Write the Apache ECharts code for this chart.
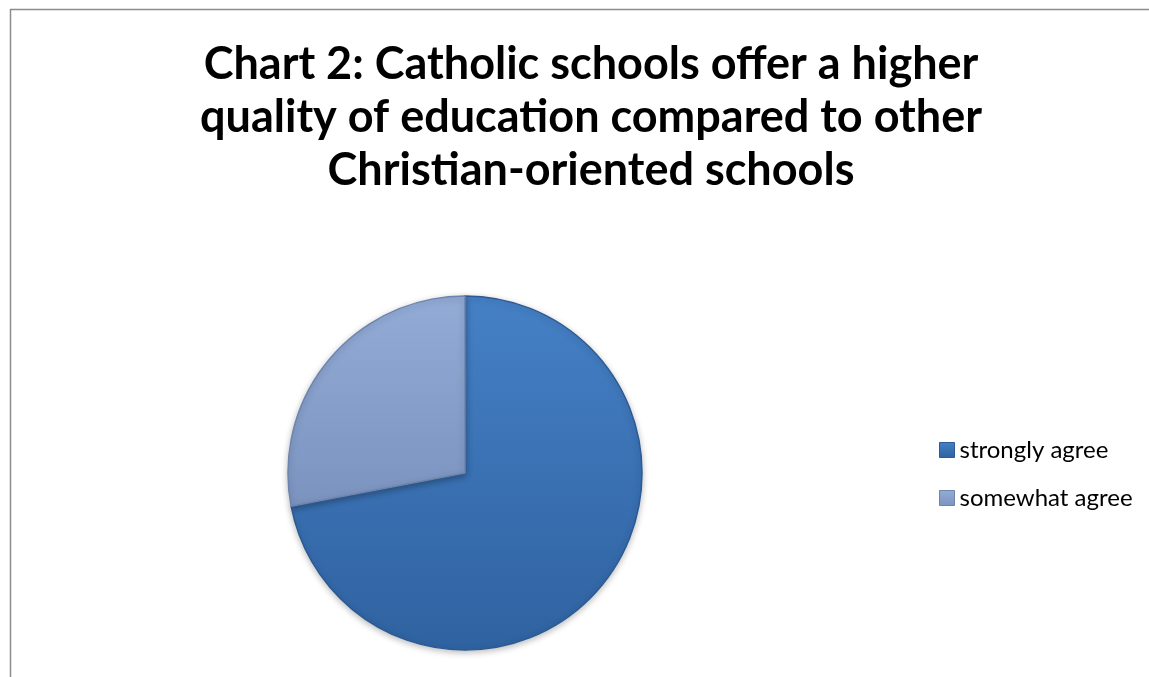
<!DOCTYPE html>
<html>
<head>
<meta charset="utf-8">
<script src="https://cdn.jsdelivr.net/npm/echarts@6/dist/echarts.min.js"></script>
<style>
html,body{margin:0;padding:0;background:#fff;}
#chart{width:1149px;height:677px;}
</style>
</head>
<body>
<div id="chart"></div>
<script>
const titleLines = ["Chart 2: Catholic schools offer a higher", "quality of education compared to other", "Christian-oriented schools"];
const categories = ["strongly agree", "somewhat agree"];
const values = [72, 28];

const sliceColors = [
  {top: "#4580c6", bottom: "#2f62a0", border: "#2c5a94"},
  {top: "#93acd6", bottom: "#7b93bf", border: "#6d84ae"}
];

const chart = echarts.init(document.getElementById('chart'), null, {renderer: 'canvas'});

const data = categories.map((c, i) => ({
  name: c,
  value: values[i],
  itemStyle: {
    color: new echarts.graphic.LinearGradient(0, 0, 0, 1, [
      {offset: 0, color: sliceColors[i].top},
      {offset: 1, color: sliceColors[i].bottom}
    ]),
    borderColor: sliceColors[i].border,
    borderWidth: 1.5
  }
}));

chart.setOption({
  animation: false,
  backgroundColor: '#ffffff',
  title: {
    text: titleLines.join('\n'),
    left: 586,
    top: 33,
    textAlign: 'center',
    textStyle: {
      fontFamily: 'Lato',
      fontWeight: 'bold',
      fontSize: 45,
      lineHeight: 53,
      color: '#000000'
    }
  },
  legend: {
    orient: 'vertical',
    left: 934,
    top: 433,
    itemWidth: 15,
    itemHeight: 15,
    itemGap: 24,
    icon: 'rect',
    selectedMode: false,
    data: categories.map((c, i) => ({
      name: c,
      itemStyle: {
        color: new echarts.graphic.LinearGradient(0, 0, 0, 1, [
          {offset: 0, color: sliceColors[i].top},
          {offset: 1, color: sliceColors[i].bottom}
        ]),
        borderColor: sliceColors[i].border,
        borderWidth: 1
      }
    })),
    textStyle: {
      fontFamily: 'Lato',
      fontSize: 24,
      color: '#000000'
    }
  },
  graphic: [
    {type: 'line', shape: {x1: 10, y1: 9.5, x2: 1149, y2: 9.5}, style: {stroke: '#8c8c8c', lineWidth: 1.5}, silent: true},
    {type: 'line', shape: {x1: 10.5, y1: 9, x2: 10.5, y2: 677}, style: {stroke: '#8c8c8c', lineWidth: 1.5}, silent: true}
  ],
  series: [{
    type: 'pie',
    center: [465, 473],
    radius: 177,
    startAngle: 90,
    clockwise: true,
    label: {show: false},
    labelLine: {show: false},
    emphasis: {disabled: true},
    itemStyle: {
      shadowBlur: 6,
      shadowColor: 'rgba(0,0,0,0.25)',
      shadowOffsetY: 2
    },
    data: data
  }]
});
</script>
</body>
</html>
